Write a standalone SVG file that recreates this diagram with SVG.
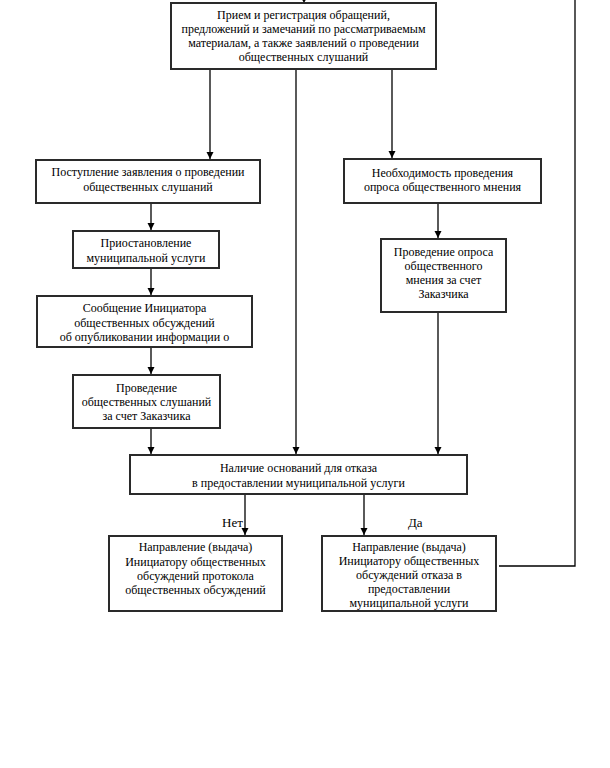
<svg xmlns="http://www.w3.org/2000/svg" width="610" height="768" viewBox="0 0 610 768">
<style>
.box{fill:#fff;stroke:#2a2a2a;stroke-width:2}
.t{font-family:"Liberation Serif","Times New Roman",serif;font-size:12px;fill:#000;text-anchor:middle}
.l{font-family:"Liberation Serif","Times New Roman",serif;font-size:13px;fill:#000}
.c{fill:none;stroke:#000;stroke-width:1.3}
</style>
<defs>
<marker id="ah" markerWidth="8" markerHeight="8" refX="7" refY="4" orient="auto" markerUnits="userSpaceOnUse">
<path d="M0,0.5 L7,4 L0,7.5 Z" fill="#000"/>
</marker>
</defs>
<rect width="610" height="768" fill="#fff"/>
<g id="connectors">
<line class="c" x1="210" y1="69" x2="210" y2="159" marker-end="url(#ah)"/>
<line class="c" x1="296" y1="69" x2="296" y2="454" marker-end="url(#ah)"/>
<line class="c" x1="392" y1="69" x2="392" y2="158" marker-end="url(#ah)"/>
<line class="c" x1="151" y1="203" x2="151" y2="230" marker-end="url(#ah)"/>
<line class="c" x1="151" y1="268" x2="151" y2="295" marker-end="url(#ah)"/>
<line class="c" x1="151" y1="347" x2="151" y2="374" marker-end="url(#ah)"/>
<line class="c" x1="151" y1="428" x2="151" y2="454" marker-end="url(#ah)"/>
<line class="c" x1="438" y1="203" x2="438" y2="238" marker-end="url(#ah)"/>
<line class="c" x1="438" y1="312" x2="438" y2="454" marker-end="url(#ah)"/>
<line class="c" x1="245" y1="494" x2="245" y2="535" marker-end="url(#ah)"/>
<line class="c" x1="364" y1="494" x2="364" y2="535" marker-end="url(#ah)"/>
<polyline class="c" points="499,566 575,566 575,0"/>
<path d="M300,-4 L308,-4 L304,3 Z" fill="#000"/>
</g>
<g id="n1">
<rect class="box" x="171" y="3" width="265" height="66"/>
<text class="t" x="303.5" y="19">Прием и регистрация обращений,</text>
<text class="t" x="303.5" y="33">предложений и замечаний по рассматриваемым</text>
<text class="t" x="303.5" y="47">материалам, а также заявлений о проведении</text>
<text class="t" x="303.5" y="61">общественных слушаний</text>
</g>
<g id="n2">
<rect class="box" x="36" y="160" width="224" height="43"/>
<text class="t" x="148" y="176">Поступление заявления о проведении</text>
<text class="t" x="148" y="191">общественных слушаний</text>
</g>
<g id="n3">
<rect class="box" x="73" y="231" width="146" height="37"/>
<text class="t" x="146" y="247">Приостановление</text>
<text class="t" x="146" y="262">муниципальной услуги</text>
</g>
<g id="n4">
<rect class="box" x="37" y="296" width="215" height="51"/>
<text class="t" x="144.5" y="312">Сообщение Инициатора</text>
<text class="t" x="144.5" y="327">общественных обсуждений</text>
<text class="t" x="144.5" y="341">об опубликовании информации о</text>
</g>
<g id="n5">
<rect class="box" x="73" y="375" width="147" height="53"/>
<text class="t" x="146.5" y="392">Проведение</text>
<text class="t" x="146.5" y="406">общественных слушаний</text>
<text class="t" x="146.5" y="420">за счет Заказчика</text>
</g>
<g id="n6">
<rect class="box" x="344" y="159" width="197" height="44"/>
<text class="t" x="442.5" y="177">Необходимость проведения</text>
<text class="t" x="442.5" y="191">опроса общественного  мнения</text>
</g>
<g id="n7">
<rect class="box" x="381" y="239" width="125" height="73"/>
<text class="t" x="443.5" y="256">Проведение опроса</text>
<text class="t" x="443.5" y="270">общественного</text>
<text class="t" x="443.5" y="284">мнения за счет</text>
<text class="t" x="443.5" y="298">Заказчика</text>
</g>
<g id="n8">
<rect class="box" x="130" y="455" width="337" height="39"/>
<text class="t" x="298.5" y="472">Наличие оснований  для  отказа</text>
<text class="t" x="298.5" y="487">в предоставлении муниципальной  услуги</text>
</g>
<g id="n9">
<rect class="box" x="109" y="536" width="173" height="75"/>
<text class="t" x="195.5" y="551">Направление (выдача)</text>
<text class="t" x="195.5" y="566">Инициатору общественных</text>
<text class="t" x="195.5" y="580">обсуждений протокола</text>
<text class="t" x="195.5" y="594">общественных обсуждений</text>
</g>
<g id="n10">
<rect class="box" x="322" y="536" width="174" height="75"/>
<text class="t" x="409" y="551">Направление (выдача)</text>
<text class="t" x="409" y="565">Инициатору общественных</text>
<text class="t" x="409" y="579">обсуждений отказа в</text>
<text class="t" x="409" y="593">предоставлении</text>
<text class="t" x="409" y="607">муниципальной услуги</text>
</g>
<g id="labels">
<text class="l" x="222" y="527">Нет</text>
<text class="l" x="408" y="527">Да</text>
</g>
</svg>
